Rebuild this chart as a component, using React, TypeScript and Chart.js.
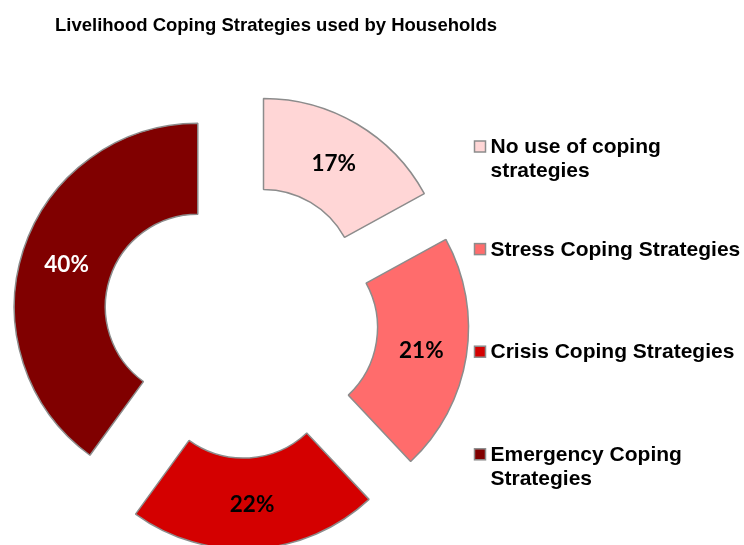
import React, { useEffect, useRef } from "react";
import { Chart, registerables } from "chart.js";

Chart.register(...registerables);

const chartTitle = "Livelihood Coping Strategies used by Households";
const categories = [
  "No use of coping strategies",
  "Stress Coping Strategies",
  "Crisis Coping Strategies",
  "Emergency Coping Strategies",
];
const shares = [17, 21, 22, 40];
const sliceColors = ["#FFD6D6", "#FF6C6C", "#D40000", "#800000"];
const labelColors = ["#000000", "#000000", "#000000", "#FFFFFF"];
const EXPLODE = 45; // doughnut explosion distance (px) along each slice's mid-angle

const LEGEND_FONT = "bold 21px 'Liberation Sans', Arial, sans-serif";
const TITLE_FONT = "bold 18.5px 'Liberation Sans', Arial, sans-serif";
const LABEL_FONT = "bold 22.5px Lato, 'Open Sans', sans-serif";

function wrapText(ctx: CanvasRenderingContext2D, text: string, maxWidth: number): string[] {
  const words = text.split(" ");
  const lines: string[] = [];
  let cur = "";
  for (const w of words) {
    const test = cur ? cur + " " + w : w;
    if (ctx.measureText(test).width > maxWidth && cur) {
      lines.push(cur);
      cur = w;
    } else {
      cur = test;
    }
  }
  if (cur) lines.push(cur);
  return lines;
}

const explodePlugin = {
  id: "explodeSlices",
  beforeDatasetsDraw(chart: any) {
    const meta = chart.getDatasetMeta(0);
    meta.data.forEach((arc: any) => {
      const mid = (arc.startAngle + arc.endAngle) / 2;
      arc.$dx = Math.cos(mid) * EXPLODE;
      arc.$dy = Math.sin(mid) * EXPLODE;
      arc.x += arc.$dx;
      arc.y += arc.$dy;
    });
  },
  afterDatasetsDraw(chart: any) {
    const ctx = chart.ctx as CanvasRenderingContext2D;
    const meta = chart.getDatasetMeta(0);
    ctx.save();
    ctx.font = LABEL_FONT;
    ctx.textAlign = "center";
    ctx.textBaseline = "middle";
    meta.data.forEach((arc: any, i: number) => {
      const p = arc.getCenterPoint();
      ctx.fillStyle = labelColors[i];
      ctx.fillText(`${shares[i]}%`, p.x, p.y + 1);
    });
    ctx.restore();
    meta.data.forEach((arc: any) => {
      arc.x -= arc.$dx || 0;
      arc.y -= arc.$dy || 0;
      arc.$dx = 0;
      arc.$dy = 0;
    });
  },
  afterDraw(chart: any) {
    const ctx = chart.ctx as CanvasRenderingContext2D;
    ctx.save();
    // title
    ctx.font = TITLE_FONT;
    ctx.fillStyle = "#000000";
    ctx.textAlign = "left";
    ctx.textBaseline = "middle";
    ctx.fillText(chartTitle, 55, 26);
    // legend
    ctx.font = LEGEND_FONT;
    const boxX = 474.5;
    const box = 11;
    const textX = 490.5;
    const firstY = 146.5;
    const pitch = 102.6;
    const lineH = 23.5;
    categories.forEach((name, i) => {
      const y = firstY + i * pitch;
      ctx.fillStyle = sliceColors[i];
      ctx.fillRect(boxX, y - box / 2, box, box);
      ctx.lineWidth = 1.5;
      ctx.strokeStyle = "#8C8C8C";
      ctx.strokeRect(boxX, y - box / 2, box, box);
      ctx.fillStyle = "#000000";
      const lines = wrapText(ctx, name, 253);
      lines.forEach((ln, j) => {
        ctx.fillText(ln, textX, y + 1 + j * lineH);
      });
    });
    ctx.restore();
  },
};

export default function App() {
  const canvasRef = useRef<HTMLCanvasElement | null>(null);

  useEffect(() => {
    if (!canvasRef.current) return;
    const chart = new Chart(canvasRef.current, {
      type: "doughnut",
      data: {
        labels: categories,
        datasets: [
          {
            data: shares,
            backgroundColor: sliceColors,
            borderColor: "#8C8C8C",
            borderWidth: 1.5,
          },
        ],
      },
      options: {
        responsive: false,
        animation: false,
        events: [],
        radius: 183.5,
        cutout: "50.4%",
        rotation: 0,
        layout: { padding: { left: 0, right: 262.8, top: 96.4, bottom: 0 } },
        plugins: {
          legend: { display: false },
          title: { display: false },
          tooltip: { enabled: false },
        },
      } as any,
      plugins: [explodePlugin],
    });
    return () => chart.destroy();
  }, []);

  return (
    <div style={{ position: "fixed", left: 0, top: 0, width: 744, height: 545, background: "#ffffff" }}>
      <canvas ref={canvasRef} width={744} height={545} style={{ width: 744, height: 545, display: "block" }} />
    </div>
  );
}
